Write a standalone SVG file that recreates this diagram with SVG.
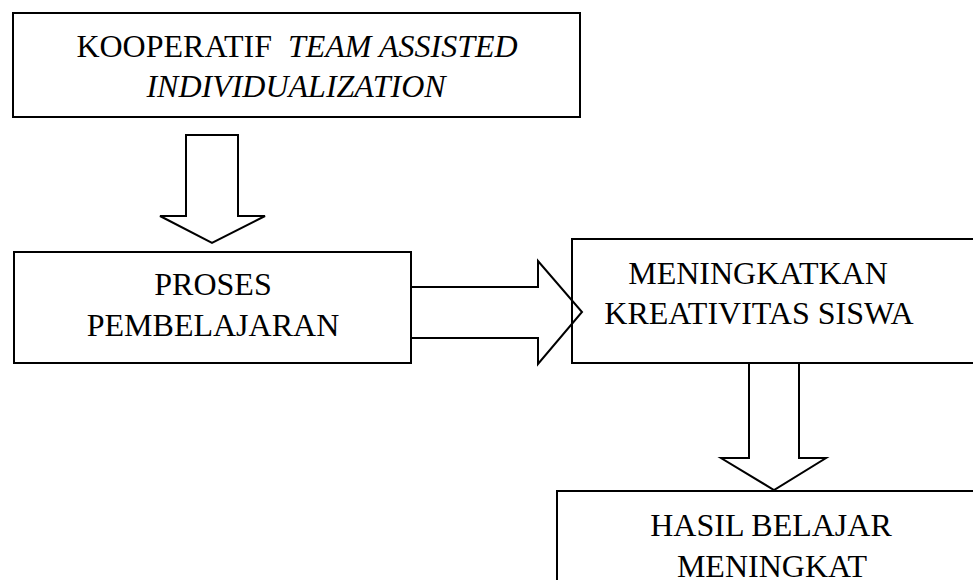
<svg xmlns="http://www.w3.org/2000/svg" width="973" height="580" viewBox="0 0 973 580">
<style>
.box{fill:none;stroke:#000;stroke-width:2}
.arr{fill:none;stroke:#000;stroke-width:2;stroke-linejoin:miter}
.t{font-family:"Liberation Serif","Times New Roman",serif;font-size:32px;fill:#000;text-anchor:middle}
.i{font-style:italic}
</style>
<rect width="973" height="580" fill="#fff"/>
<g id="connectors">
<polygon class="arr" points="186,135 238,135 238,216 265,216 212,243 160,216 186,216"/>
<polygon class="arr" points="411,287 538,287 538,261 582,312 538,364 538,338 411,338"/>
<polygon class="arr" points="749,363 799,363 799,458 826,458 774,490 721,458 749,458"/>
</g>
<g id="n1">
<rect class="box" x="13" y="13" width="567" height="104"/>
<text class="t" x="297" y="57" xml:space="preserve">KOOPERATIF  <tspan class="i">TEAM ASSISTED</tspan></text>
<text class="t i" x="296" y="97">INDIVIDUALIZATION</text>
</g>
<g id="n2">
<rect class="box" x="14" y="252" width="397" height="111"/>
<text class="t" x="213" y="295">PROSES</text>
<text class="t" x="213" y="336">PEMBELAJARAN</text>
</g>
<g id="n3">
<rect class="box" x="572" y="239" width="410" height="124"/>
<text class="t" x="758" y="284">MENINGKATKAN</text>
<text class="t" x="759" y="324">KREATIVITAS SISWA</text>
</g>
<g id="n4">
<rect class="box" x="557" y="491" width="424" height="100"/>
<text class="t" x="771" y="536">HASIL BELAJAR</text>
<text class="t" x="772" y="577">MENINGKAT</text>
</g>
</svg>
